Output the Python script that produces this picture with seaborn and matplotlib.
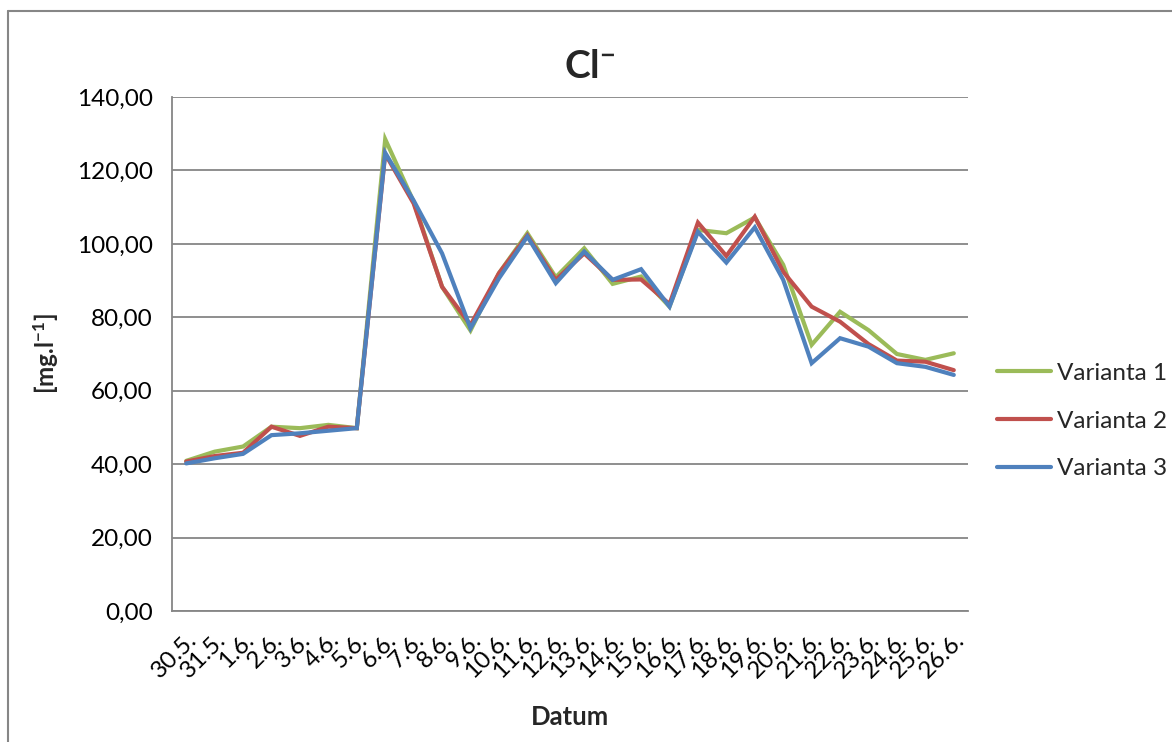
import matplotlib
matplotlib.use("Agg")
import matplotlib.pyplot as plt
import seaborn as sns
import pandas as pd
import numpy as np
from matplotlib.lines import Line2D
from matplotlib.ticker import FuncFormatter, FixedLocator

dates = ["30.5.", "31.5.", "1.6.", "2.6.", "3.6.", "4.6.", "5.6.", "6.6.", "7.6.", "8.6.",
         "9.6.", "10.6.", "11.6.", "12.6.", "13.6.", "14.6.", "15.6.", "16.6.", "17.6.",
         "18.6.", "19.6.", "20.6.", "21.6.", "22.6.", "23.6.", "24.6.", "25.6.", "26.6."]

varianta1 = [40.9, 43.4, 44.8, 50.2, 49.8, 50.7, 49.8, 128.5, 111.5, 88.3,
             76.4, 92.0, 102.9, 90.9, 98.8, 89.1, 91.1, 82.9, 103.8,
             102.9, 107.2, 94.3, 72.5, 81.5, 76.5, 70.0, 68.4, 70.2]
varianta2 = [40.7, 42.2, 43.1, 50.2, 47.7, 50.2, 49.8, 124.5, 111.0, 88.3,
             77.9, 92.0, 102.3, 90.2, 97.4, 90.2, 90.3, 83.6, 105.8,
             96.7, 107.4, 92.4, 82.9, 78.8, 72.7, 68.2, 67.9, 65.6]
varianta3 = [40.2, 41.6, 42.8, 47.9, 48.4, 49.1, 49.8, 124.8, 111.8, 97.4,
             77.0, 90.6, 102.0, 89.3, 97.9, 90.2, 93.1, 82.9, 103.3,
             94.9, 104.5, 90.2, 67.5, 74.3, 72.0, 67.5, 66.5, 64.3]

series_names = ["Varianta 1", "Varianta 2", "Varianta 3"]
colors = ["#9BBB59", "#C0504D", "#4F81BD"]
yticks = [0, 20, 40, 60, 80, 100, 120, 140]

rows = []
for name, vals in zip(series_names, [varianta1, varianta2, varianta3]):
    for i, v in enumerate(vals):
        rows.append({"pos": i, "value": v, "series": name})
df = pd.DataFrame(rows)

sns.set_style("white")
plt.rcParams["font.family"] = ["Lato", "DejaVu Sans"]
plt.rcParams["mathtext.fontset"] = "custom"
plt.rcParams["mathtext.rm"] = "Lato"
plt.rcParams["mathtext.bf"] = "Lato:bold"
plt.rcParams["mathtext.it"] = "Lato:italic"

FS = 17.5

W, H = 1172, 742
fig = plt.figure(figsize=(W / 100, H / 100), dpi=100)
ax = fig.add_axes([172 / W, 1 - 611 / H, (968 - 172) / W, (611 - 97) / H])

sns.lineplot(data=df, x="pos", y="value", hue="series", palette=colors,
             hue_order=series_names, linewidth=3.0, ax=ax, legend=False,
             sort=False, solid_capstyle="round", solid_joinstyle="miter")

gray = "#868686"
n = len(dates)
ax.set_xlim(-0.5, n - 0.5)
ax.set_ylim(0, 140)
ax.set_yticks(yticks)
ax.yaxis.set_major_formatter(FuncFormatter(lambda v, p: f"{v:.2f}".replace(".", ",")))
ax.yaxis.grid(True, color=gray, linewidth=1.3)
ax.set_axisbelow(True)

ax.set_xticks(np.arange(n))
ax.set_xticklabels(dates, rotation=45, ha="right", rotation_mode="anchor")
ax.xaxis.set_minor_locator(FixedLocator(np.arange(-0.5, n, 1.0)))
ax.tick_params(axis="x", which="major", length=0, pad=13, labelsize=FS, colors="black")
ax.tick_params(axis="x", which="minor", length=6, width=1.2, color=gray, direction="out")
ax.tick_params(axis="y", which="major", length=6, width=1.2, color=gray, direction="out",
               labelsize=FS, labelcolor="black", pad=8)
for lbl in ax.get_xticklabels():
    lbl.set_color("black")

for s in ["top", "right"]:
    ax.spines[s].set_visible(False)
for s in ["left", "bottom"]:
    ax.spines[s].set_color(gray)
    ax.spines[s].set_linewidth(1.3)

ax.set_xlabel("")
ax.set_ylabel("")

fig.text(590 / W, 1 - 66 / H, r"Cl$^{\mathbf{-}}$", ha="center", va="center",
         fontsize=28, fontweight="bold")
fig.text(45 / W, 1 - 354 / H, r"[mg.l$^{\mathbf{-1}}$]", ha="center", va="center",
         rotation=90, fontsize=FS, fontweight="bold")
fig.text(570 / W, 1 - 717 / H, "Datum", ha="center", va="center",
         fontsize=18.5, fontweight="bold")

handles = [Line2D([0], [0], color=c, linewidth=3.0, solid_capstyle="round") for c in colors]
fig.legend(handles, series_names, loc="center left",
           bbox_to_anchor=(985 / W, 1 - 421 / H), frameon=False, fontsize=FS,
           handlelength=2.2, handletextpad=0.25, labelspacing=1.1, borderpad=0)

# outer chart border
fig.add_artist(Line2D([8 / W, 8 / W], [0, 1 - 11 / H], transform=fig.transFigure,
                      color=gray, linewidth=1.5))
fig.add_artist(Line2D([8 / W, 1], [1 - 11 / H, 1 - 11 / H], transform=fig.transFigure,
                      color=gray, linewidth=1.5))

fig.savefig("out.png", dpi=100)
